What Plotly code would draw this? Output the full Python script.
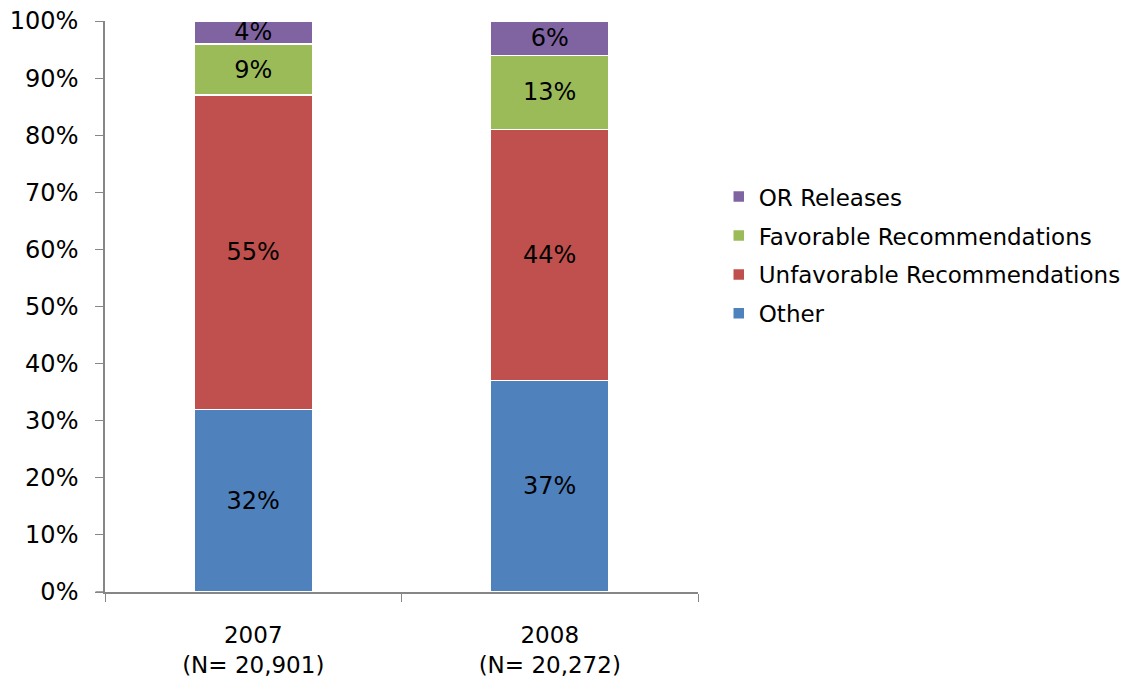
import plotly.graph_objects as go

categories = ["2007<br>(N= 20,901)", "2008<br>(N= 20,272)"]
other = [32, 37]
unfavorable = [55, 44]
favorable = [9, 13]
or_releases = [4, 6]

series = [
    ("Other", other, "#4F81BD"),
    ("Unfavorable Recommendations", unfavorable, "#C0504D"),
    ("Favorable Recommendations", favorable, "#9BBB59"),
    ("OR Releases", or_releases, "#8064A2"),
]

FONT = "Tahoma, DejaVu Sans, sans-serif"
AXIS_GREY = "#868686"

fig = go.Figure()
for i, (name, vals, color) in enumerate(series):
    fig.add_trace(go.Bar(
        x=categories, y=vals, name=name, legendgroup=name,
        legendrank=1000 - i,  # top segment listed first
        marker=dict(color=color, line=dict(color="white", width=1.5)),
        text=[f"{v}%" for v in vals],
        textposition="inside", insidetextanchor="middle",
        constraintext="none",
        textfont=dict(color="black", size=24, family=FONT),
    ))

fig.update_layout(
    barmode="stack", bargap=0.6,
    width=1142, height=690,
    margin=dict(l=105, r=444, t=21, b=98),
    plot_bgcolor="white", paper_bgcolor="white",
    font=dict(family=FONT, size=24, color="black"),
    legend=dict(traceorder="grouped", x=1.035, y=0.73, xanchor="left",
                yanchor="top", font=dict(size=23), itemwidth=30, tracegroupgap=6),
    showlegend=True,
)
# baseline extends slightly left of the value axis
fig.add_shape(type="line", xref="paper", yref="paper", x0=-0.016, x1=0, y0=0, y1=0,
              line=dict(color=AXIS_GREY, width=1.5))
fig.update_xaxes(showline=True, linecolor=AXIS_GREY, linewidth=1.5,
                 ticks="outside", tickson="boundaries", ticklen=8, tickcolor=AXIS_GREY,
                 showgrid=False, automargin=False, tickfont=dict(size=23),
                 ticklabelstandoff=22)
fig.update_yaxes(range=[0, 100], dtick=10, ticksuffix="%", showline=True,
                 linecolor=AXIS_GREY, linewidth=1.5, ticks="outside", ticklen=8,
                 tickcolor=AXIS_GREY, showgrid=False, zeroline=False,
                 automargin=False, ticklabelstandoff=12)

fig.write_html("out.html")
